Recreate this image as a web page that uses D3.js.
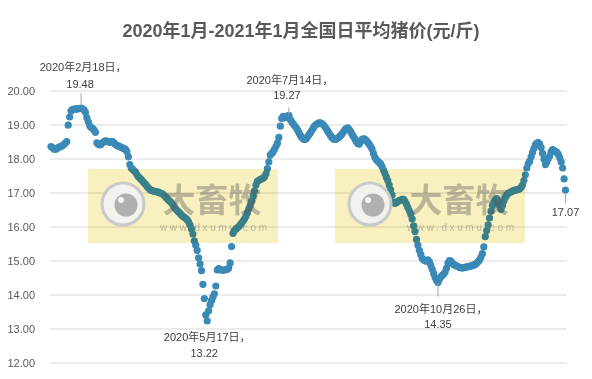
<!DOCTYPE html>
<html><head><meta charset="utf-8">
<script src="https://cdn.jsdelivr.net/npm/d3@7"></script>
<style>body{margin:0;background:#fff}svg{display:block}</style>
</head><body><svg id="c" width="592" height="379"></svg>
<script>
const chartTitle = "2020年1月-2021年1月全国日平均猪价(元/斤)";
const yTicks = [12, 13, 14, 15, 16, 17, 18, 19, 20];
const prices = [
18.35,18.32,18.28,18.27,18.29,18.32,18.34,18.36,18.38,18.41,18.45,18.50,
18.98,19.22,19.40,19.44,19.45,19.46,19.45,19.46,19.47,19.48,19.46,19.43,19.36,19.20,19.08,18.96,18.91,18.89,18.84,18.77,
18.46,18.42,18.40,18.42,18.46,18.50,18.52,18.51,18.49,18.47,18.49,18.50,18.46,18.41,18.38,18.37,18.35,18.33,18.31,18.29,18.27,18.20,18.05,
17.82,17.72,17.68,17.64,17.60,17.52,17.46,17.42,17.38,17.33,17.28,17.24,17.18,17.13,17.09,17.06,17.05,17.04,17.03,17.02,17.01,16.99,16.97,16.95,16.91,
16.87,16.82,16.78,16.74,16.70,16.64,16.57,16.52,16.47,16.43,16.39,16.34,16.30,16.27,16.24,16.20,16.14,16.05,15.93,15.78,
15.58,15.45,15.30,15.08,14.90,14.70,14.30,13.88,13.40,13.22,13.52,13.70,13.82,13.93,14.02,14.25,
14.72,14.76,14.73,14.72,14.71,14.72,14.73,14.74,14.78,14.93,15.41,15.80,15.88,15.92,15.96,16.00,16.05,16.10,16.16,16.22,
16.30,16.40,16.52,16.62,16.75,16.90,17.05,17.22,17.33,17.36,17.38,17.40,17.42,17.46,17.55,17.70,17.90,18.10,18.15,18.20,
18.28,18.36,18.45,18.62,18.95,19.18,19.24,19.22,19.20,19.25,19.27,19.15,19.08,19.02,18.96,18.91,18.84,18.76,18.68,18.62,
18.58,18.56,18.58,18.64,18.70,18.76,18.83,18.90,18.96,19.00,19.03,19.05,19.05,19.03,18.99,18.94,18.88,18.81,18.74,18.68,
18.62,18.58,18.56,18.57,18.60,18.63,18.67,18.72,18.78,18.84,18.88,18.90,18.86,18.80,18.72,18.65,18.58,18.50,18.44,18.42,
18.50,18.56,18.58,18.57,18.53,18.48,18.42,18.36,18.28,18.15,18.04,17.96,17.92,17.88,17.84,17.76,17.66,17.56,17.45,17.35,
17.22,17.08,16.92,16.72,16.68,16.70,16.74,16.76,16.78,16.80,16.80,16.74,16.66,16.56,16.46,16.36,16.22,16.02,15.85,15.62,
15.45,15.30,15.18,15.06,15.02,14.99,14.98,15.02,14.96,14.86,14.74,14.62,14.50,14.42,14.35,14.45,14.52,14.56,14.60,14.66,
14.78,14.92,15.00,14.98,14.92,14.88,14.86,14.84,14.82,14.80,14.79,14.78,14.79,14.80,14.81,14.82,14.83,14.84,14.85,14.87,
14.88,14.92,14.96,15.02,15.10,15.20,15.40,15.70,15.88,16.05,16.25,16.45,16.62,16.72,16.78,16.82,16.75,16.62,16.50,16.62,
16.75,16.85,16.92,16.97,17.00,17.02,17.04,17.06,17.07,17.08,17.09,17.11,17.15,17.22,17.35,17.52,17.72,17.85,17.92,18.05,
18.18,18.30,18.40,18.45,18.47,18.42,18.32,18.15,17.98,17.82,17.90,18.00,18.08,18.20,18.26,18.24,18.20,18.18,18.12,18.02,
17.90,17.72,17.40,17.07
];
const annotationIndex = [21, 109, 166, 270, 359];
const annotationDate = ["2020年2月18日，", "2020年5月17日，", "2020年7月14日，", "2020年10月26日，", ""];
const annotationValue = ["19.48", "13.22", "19.27", "14.35", "17.07"];
const watermarkName = "大畜牧";
const watermarkSite = "www.dxumu.com";

// layout (not data)
const W = 592, H = 379;
const plot = {left: 50, right: 567, top: 90.5, bottom: 362.5};
const labelLayout = [
  {dx: -1, line1: -37, line2: -20, lead: [-15, -3]},
  {dx: -3, line1: 20, line2: 36, lead: null},
  {dx: -2, line1: -31, line2: -16, lead: [-8, -1]},
  {dx: 0, line1: 30, line2: 45, lead: [1, 14]},
  {dx: 0, line1: 0, line2: 26, lead: [3, 13]}
];
const FONT = "'Liberation Sans','Noto Sans CJK SC',sans-serif";

const svg = d3.select("#c");
svg.append("rect").attr("width", W).attr("height", H).attr("fill", "#fff");

const x = d3.scaleLinear().domain([0, prices.length - 1]).range([51, 565.5]);
const y = d3.scaleLinear().domain([12, 20]).range([plot.bottom, plot.top]);

// title
svg.append("text").attr("x", 301).attr("y", 37).attr("text-anchor", "middle")
  .attr("font-family", FONT).attr("font-weight", "bold").attr("font-size", 18)
  .attr("fill", "#595959").text(chartTitle);

// axis / gridlines
const ax = svg.append("g").attr("transform", `translate(${plot.left},0)`)
  .call(d3.axisLeft(y).tickValues(yTicks).tickSize(-(plot.right - plot.left))
    .tickPadding(15).tickFormat(d3.format(".2f")));
ax.select(".domain").remove();
ax.selectAll(".tick line").attr("stroke", "#d9d9d9").attr("stroke-width", 1);
ax.selectAll(".tick text").attr("fill", "#595959").attr("font-size", 11).attr("font-family", FONT);

// dots
svg.append("g").selectAll("circle").data(prices).join("circle")
  .attr("cx", (d, i) => x(i)).attr("cy", d => y(d)).attr("r", 3.6)
  .attr("fill", "#3a89b7");

// watermarks
const wmX = [88, 335];
wmX.forEach(wx => {
  const g = svg.append("g").attr("transform", `translate(${wx},169)`);
  g.append("rect").attr("width", 190).attr("height", 74)
    .attr("fill", "#f9f0bf").style("mix-blend-mode", "multiply");
  g.append("circle").attr("cx", 35).attr("cy", 35).attr("r", 21)
    .attr("fill", "#f2f2f2").attr("fill-opacity", 0.92)
    .attr("stroke", "#c9c9c9").attr("stroke-width", 3);
  g.append("circle").attr("cx", 38).attr("cy", 36).attr("r", 11.5).attr("fill", "#b0b0b0");
  g.append("circle").attr("cx", 33).attr("cy", 31).attr("r", 3).attr("fill", "#f4f4f4");
  g.append("text").attr("x", 124).attr("y", 43).attr("text-anchor", "middle")
    .attr("font-family", "'Noto Sans CJK SC',sans-serif").attr("font-weight", "bold")
    .attr("font-size", 33).attr("fill", "#555").attr("fill-opacity", 0.38)
    .text(watermarkName);
  g.append("text").attr("x", 72).attr("y", 62)
    .attr("font-family", FONT).attr("font-size", 10)
    .attr("textLength", 107).attr("lengthAdjust", "spacing")
    .attr("fill", "#555").attr("fill-opacity", 0.35).text(watermarkSite);
});

// annotations
annotationIndex.forEach((idx, k) => {
  const px = x(idx), py = y(prices[idx]);
  const L = labelLayout[k];
  if (L.lead) {
    svg.append("line").attr("x1", px).attr("x2", px)
      .attr("y1", py + L.lead[0]).attr("y2", py + L.lead[1])
      .attr("stroke", "#a6a6a6").attr("stroke-width", 1);
  }
  if (annotationDate[k]) {
    svg.append("text").attr("x", px + L.dx + 3).attr("y", py + L.line1)
      .attr("text-anchor", "middle").attr("font-family", FONT).attr("font-size", 11)
      .attr("fill", "#404040").text(annotationDate[k]);
  }
  svg.append("text").attr("x", px + L.dx).attr("y", py + L.line2)
    .attr("text-anchor", "middle").attr("font-family", FONT).attr("font-size", 11)
    .attr("fill", "#404040").text(annotationValue[k]);
});
</script>
</body></html>
